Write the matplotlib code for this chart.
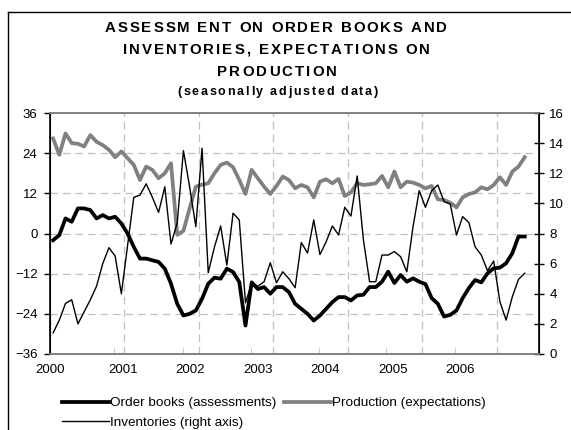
import numpy as np
import matplotlib.pyplot as plt
import matplotlib as mpl
from matplotlib.lines import Line2D
from matplotlib.font_manager import FontProperties

mpl.rcParams['font.family'] = ['Liberation Sans', 'DejaVu Sans']

# monthly data, Jan 2000 - May 2006
order_books = [-2, -0.5, 4.5, 3.5, 7.5, 7.5, 7, 4.5, 5.5, 4.5, 5, 3,
               0, -4, -7.5, -7.5, -8, -8.5, -10.5, -15, -21, -24.5, -24, -23,
               -19.5, -15, -13.2, -13.5, -10.5, -11.5, -14.5, -27.5, -14.6, -16.6, -16, -18,
               -16, -16, -17.5, -21, -22.5, -24, -26, -24.5, -22.5, -20.5, -19, -19,
               -20, -18.5, -18.3, -16, -16, -14.4, -11.4, -14.8, -12.4, -14.4, -13.4, -14.4,
               -15.1, -19.3, -21, -24.8, -24.3, -23, -19.3, -16.3, -13.9, -14.6, -11.9, -10.4,
               -10.2, -8.9, -5.9, -0.9, -0.9]
production = [28.4, 23.5, 29.9, 27, 26.8, 26, 29.4, 27.4, 26.4, 25, 22.8, 24.5,
              22.5, 20.5, 16, 20, 19, 16.5, 18, 21, -0.4, 0.8, 7.5, 14,
              14.6, 15, 18, 20.5, 21.2, 19.8, 16, 11.8, 19, 16.5, 14, 11.8,
              14.2, 17, 16, 13.5, 14.5, 13.8, 10.8, 15.5, 16.2, 15, 16.3, 11.2,
              12.3, 15, 14.5, 14.7, 15, 17.2, 13.8, 18.5, 13.8, 15.5, 15.2, 14.5,
              13.5, 14.2, 10.2, 10, 9.2, 7.8, 10.8, 11.8, 12.3, 13.8, 13.2, 14.5,
              16.8, 14.5, 18.5, 20, 22.8]
inventories = [1.4, 2.25, 3.36, 3.6, 2.0, 2.8, 3.6, 4.5, 6.0, 7.06, 6.5, 4.0,
               7.2, 10.4, 10.55, 11.3, 10.4, 9.4, 11.1, 7.3, 8.7, 13.5, 11.1, 8.45,
               13.66, 5.4, 7.1, 8.5, 5.9, 9.35, 8.9, 3.4, 4.7, 4.5, 4.8, 6.06,
               4.73, 5.46, 5.0, 4.4, 7.4, 6.7, 8.9, 6.6, 7.45, 8.5, 7.9, 9.74,
               9.16, 11.82, 7.6, 4.8, 4.8, 6.57, 6.57, 6.8, 6.46, 5.46, 8.45, 10.84,
               9.74, 10.84, 11.22, 10.11, 9.96, 7.9, 9.12, 8.72, 7.12, 6.57, 5.53, 6.17,
               3.47, 2.25, 3.8, 4.96, 5.36]
years = ['2000', '2001', '2002', '2003', '2004', '2005', '2006']
title_lines = ['ASSESSM ENT ON ORDER BOOKS AND', 'INVENTORIES, EXPECTATIONS ON', 'PRODUCTION']
subtitle = '(seasonally adjusted data)'

months = np.arange(len(order_books))
W, H = 571, 430

fig = plt.figure(figsize=(5.71, 4.30), dpi=100)
ax = fig.add_axes([50/W, 1-354/H, 489/W, 241/H])
ax2 = ax.twinx()

ax.plot(months, order_books, color='black', lw=2.7, solid_joinstyle='round')
ax.plot(months, production, color='#808080', lw=2.7, solid_joinstyle='round')
ax2.plot(months, inventories, color='black', lw=1.0)

ax.set_xlim(-0.28, 78.3)
ax.set_ylim(-36, 36)
ax2.set_ylim(0, 16)
ax.set_yticks(np.arange(-36, 37, 12))
ax2.set_yticks(np.arange(0, 17, 2))

# gridlines
for y in range(-24, 36, 12):
    ax.axhline(y, color='#c0c0c0', lw=0.9, ls=(0, (6, 4)), zorder=0)
for xv in np.arange(11.5, 78, 12):
    ax.axvline(xv, color='#c0c0c0', lw=0.9, ls=(0, (6, 4)), zorder=0)

# x axis labels / marks
label_pos = [-0.5, 11.3, 22.05, 33.0, 43.9, 54.8, 65.6]
ax.set_xticks(label_pos, years)
ax.tick_params(axis='x', length=0, pad=7, labelsize=9.5)
ax.set_xticks([9.85, 20.9, 31.9, 42.8, 53.7, 64.8], minor=True)
ax.tick_params(axis='x', which='minor', direction='in', length=4, color='#c0c0c0')

ax.tick_params(axis='y', direction='out', length=4, width=1, labelsize=9.5, pad=5)
ax2.tick_params(axis='y', direction='inout', length=7, width=1, labelsize=9.5, pad=4)

for a in (ax, ax2):
    a.spines['top'].set_color('#808080')
    a.spines['bottom'].set_color('#808080')
    a.spines['top'].set_linewidth(1.2)
    a.spines['bottom'].set_linewidth(1.2)
ax.spines['left'].set_linewidth(1.2)
ax2.spines['right'].set_linewidth(1.2)


def spaced_text(s, cx, cy, width, size):
    # draw letter by letter, stretched to the given pixel width
    prop = FontProperties(family='Liberation Sans', weight='bold', size=size)
    r = fig.canvas.get_renderer()
    ws = [r.get_text_width_height_descent(c, prop, ismath=False)[0] for c in s]
    track = (width - sum(ws)) / (len(s) - 1)
    x = cx - width / 2
    for c, w in zip(s, ws):
        fig.text(x / W, 1 - cy / H, c, ha='left', va='center', fontproperties=prop)
        x += w + track


spaced_text(title_lines[0], 276, 28, 342, 10.8)
spaced_text(title_lines[1], 276.5, 50, 307, 10.8)
spaced_text(title_lines[2], 277, 72, 120, 10.8)
spaced_text(subtitle, 277.5, 92, 201, 9)

# legend
h1 = Line2D([], [], color='black', lw=2.7)
h2 = Line2D([], [], color='#808080', lw=2.7)
h3 = Line2D([], [], color='black', lw=1.0)
fig.legend([h1, h3, h2],
           ['Order books (assessments)', 'Inventories (right axis)', 'Production (expectations)'],
           ncol=2, loc='upper left', bbox_to_anchor=(62/W, 1-397/H),
           frameon=False, fontsize=9.7, handlelength=3.5, handletextpad=0.1,
           columnspacing=0.5, labelspacing=0.5, borderaxespad=0, borderpad=0)

# outer frame
fig.add_artist(Line2D([8/W, 8/W], [0, 1-12/H], transform=fig.transFigure,
                      color='black', lw=1.0))
fig.add_artist(Line2D([8/W, 1], [1-12/H, 1-12/H], transform=fig.transFigure,
                      color='black', lw=1.0))

fig.savefig('out.png', dpi=100)
